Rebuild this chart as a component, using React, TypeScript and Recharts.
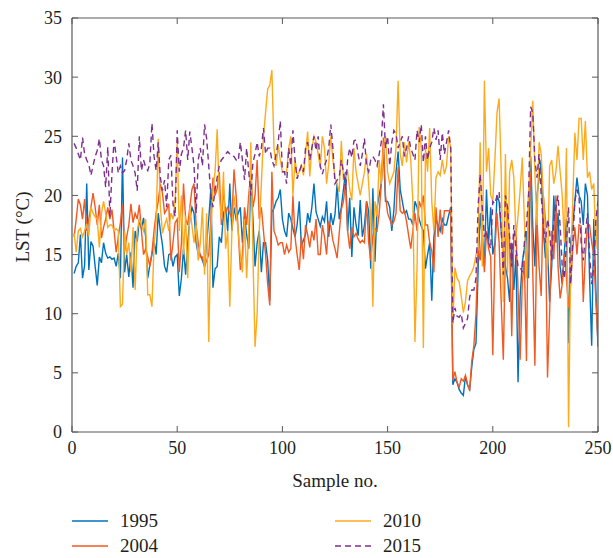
import { Line, LineChart, XAxis, YAxis } from 'recharts';

// LST per sample
const lst1995 = [
  13.4, 14.0, 14.3, 16.7, 13.0, 14.1, 21.0, 13.7, 16.1, 15.7,
  14.0, 12.4, 14.8, 14.3, 16.0, 15.1, 14.7, 14.8, 14.6, 14.7,
  14.0, 15.1, 13.0, 23.2, 13.5, 15.0, 13.1, 15.2, 12.2, 17.0,
  16.1, 18.0, 17.2, 18.1, 16.5, 13.0, 14.1, 15.0, 16.2, 15.0,
  18.5, 17.0, 15.8, 14.0, 13.5, 15.0, 15.1, 14.0, 14.8, 15.0,
  11.5, 13.0, 15.5, 13.3, 16.0, 18.0, 19.0, 18.5, 16.0, 15.0,
  15.0, 14.5, 14.0, 16.0, 18.0, 20.6, 12.2, 13.8, 14.0, 16.5,
  16.0, 18.5, 19.0, 17.0, 21.0, 17.0, 19.0, 18.0, 18.5, 19.0,
  16.0, 18.3, 16.7, 15.5, 21.5, 18.0, 14.0, 16.0, 17.0, 13.5,
  16.0, 16.0, 14.5, 11.1, 18.6, 18.9, 19.5, 19.8, 20.5, 18.0,
  17.0, 16.5, 18.5, 18.0, 17.2, 16.5, 17.5, 19.5, 15.8, 16.2,
  16.7, 18.5, 17.7, 19.0, 21.0, 18.6, 18.0, 17.4, 18.2, 17.8,
  19.5, 16.5, 18.5, 17.5, 18.4, 21.0, 18.0, 19.0, 20.5, 22.0,
  17.0, 19.8, 14.8, 19.0, 17.5, 16.6, 19.6, 16.5, 17.5, 19.5,
  18.7, 13.8, 20.6, 14.4, 19.0, 20.0, 21.0, 24.0, 19.5, 19.5,
  19.0, 17.0, 18.8, 22.0, 23.7, 20.5, 19.5, 18.5, 18.7, 18.0,
  18.0, 17.5, 19.5, 19.0, 18.0, 17.4, 17.0, 13.8, 15.0, 16.0,
  11.1, 16.5, 18.0, 17.5, 17.0, 18.0, 17.5, 17.5, 18.3, 19.0,
  4.0, 4.5, 4.2, 3.6, 3.3, 3.1, 4.7, 4.0, 3.6, 5.5,
  7.0, 7.5, 13.6, 18.5, 16.5, 14.0, 20.5, 16.0, 19.0, 15.0,
  16.0, 20.0, 19.5, 17.0, 15.0, 14.0, 13.0, 11.0, 16.0, 12.0,
  15.0, 4.2, 11.5, 14.3, 15.5, 17.0, 13.0, 23.3, 17.4, 14.0,
  20.0, 21.5, 23.0, 17.0, 14.7, 15.5, 11.0, 14.0, 20.0, 16.0,
  18.5, 14.0, 12.5, 15.2, 18.0, 7.5, 16.0, 17.5, 19.5, 21.5,
  20.0, 19.5, 17.5, 21.0, 20.0, 13.0, 7.3, 18.0, 12.0, 7.2,
];

const lst2004 = [
  16.5, 18.0, 19.7, 19.2, 18.0, 19.7, 17.0, 18.0, 19.0, 20.2,
  19.0, 17.5, 19.2, 16.4, 17.3, 18.0, 19.0, 18.0, 18.8, 17.0,
  15.2, 16.5, 17.7, 19.2, 15.3, 16.5, 17.5, 19.3, 17.7, 18.5,
  18.0, 19.2, 17.0, 15.0, 15.5, 14.8, 14.0, 15.2, 17.0, 18.5,
  19.5, 21.0, 20.2, 18.5, 18.8, 19.3, 14.5, 16.0, 17.7, 18.0,
  13.5, 16.0, 21.0, 18.0, 17.5, 19.0, 20.5, 21.0, 17.5, 16.0,
  14.8, 14.8, 14.0, 14.5, 15.0, 18.0, 21.5, 20.0, 20.6, 22.0,
  17.5, 20.5, 18.5, 19.0, 18.5, 18.0, 22.2, 20.0, 17.0, 13.7,
  15.0, 19.0, 17.5, 20.0, 22.0, 19.0, 20.0, 23.0, 18.0, 19.0,
  17.0, 15.0, 12.5, 10.7, 22.0, 17.0, 16.5, 15.8, 16.0, 16.0,
  15.0, 15.8, 15.2, 15.5, 20.0, 16.5, 15.0, 13.7, 16.5, 14.6,
  17.5, 16.7, 15.6, 17.0, 16.2, 18.0, 15.0, 15.0, 17.5, 16.5,
  15.0, 17.8, 17.4, 16.2, 15.5, 14.7, 16.8, 18.8, 19.5, 21.0,
  17.0, 15.5, 17.3, 16.5, 16.8, 16.3, 16.0, 16.2, 16.0, 19.5,
  16.0, 14.5, 16.6, 17.2, 17.0, 18.5, 21.0, 24.9, 20.0, 18.5,
  18.0, 17.5, 17.8, 18.5, 22.4, 18.7, 18.5, 18.7, 17.8, 16.6,
  15.5, 17.0, 18.5, 17.0, 19.5, 19.0, 20.0, 17.5, 17.5, 16.0,
  15.3, 13.5, 19.0, 16.5, 18.8, 16.7, 18.7, 18.7, 18.7, 18.7,
  4.4, 5.1, 4.2, 3.8, 4.5, 4.3, 4.8, 4.0, 3.5, 6.0,
  7.3, 10.0, 15.5, 14.5, 17.0, 13.5, 17.0, 15.5, 14.8, 6.5,
  15.5, 18.5, 16.0, 11.0, 6.1, 15.5, 19.0, 16.0, 8.1, 16.5,
  17.0, 12.0, 6.1, 12.5, 14.5, 6.0, 20.0, 22.0, 13.5, 5.6,
  18.0, 14.0, 11.5, 20.0, 18.0, 4.6, 10.0, 17.0, 14.6, 20.0,
  14.0, 11.3, 12.5, 15.0, 13.0, 10.5, 12.5, 15.5, 17.3, 15.0,
  17.5, 17.4, 11.0, 15.0, 17.5, 17.5, 16.0, 15.0, 11.0, 7.5,
];

const lst2010 = [
  16.8, 15.2, 17.0, 17.2, 16.5, 17.0, 17.6, 16.6, 19.0, 18.5,
  18.2, 18.0, 15.6, 18.5, 19.5, 18.5, 17.3, 17.5, 17.5, 17.0,
  17.2, 17.0, 10.6, 10.8, 17.0, 15.0, 16.0, 13.5, 17.3, 12.0,
  17.0, 18.0, 17.5, 17.0, 18.0, 11.6, 11.6, 10.6, 15.8, 17.8,
  24.8, 19.0, 16.8, 17.5, 18.0, 17.0, 18.5, 18.0, 19.5, 24.5,
  17.0, 20.0, 15.0, 18.3, 13.0, 19.0, 17.5, 16.0, 17.5, 14.5,
  16.0, 19.0, 13.3, 18.5, 7.6, 17.0, 20.5, 22.0, 25.6, 20.0,
  18.0, 22.0, 15.5, 17.0, 10.6, 17.0, 20.0, 18.5, 17.0, 15.0,
  13.5, 18.0, 13.0, 17.0, 24.5, 15.0, 7.2, 10.0, 17.0, 21.0,
  25.0, 27.0, 29.0, 29.3, 30.6, 24.0, 22.5, 24.2, 23.0, 22.0,
  22.0, 22.0, 24.0, 25.0, 20.0, 23.0, 21.7, 22.0, 22.6, 21.7,
  23.5, 25.4, 21.6, 24.0, 25.0, 24.5, 23.5, 22.3, 25.0, 24.0,
  21.0, 22.6, 25.0, 23.0, 21.5, 21.0, 20.3, 24.6, 21.4, 21.7,
  22.0, 20.5, 19.6, 24.0, 22.0, 21.0, 20.0, 21.0, 22.0, 23.5,
  21.0, 18.0, 10.6, 19.5, 18.2, 23.0, 21.0, 24.0, 25.0, 22.0,
  21.0, 21.5, 22.0, 24.0, 29.7, 23.5, 22.5, 24.5, 22.8, 24.5,
  23.0, 19.5, 7.6, 14.0, 25.8, 24.0, 7.1, 24.0, 22.0, 25.7,
  19.5, 17.0, 21.5, 22.0, 21.7, 23.0, 21.8, 22.5, 25.0, 24.0,
  9.1, 13.9, 13.0, 12.7, 11.5, 10.1, 11.0, 12.8, 13.2, 13.5,
  14.0, 15.0, 15.5, 24.5, 14.0, 29.7, 22.0, 24.0, 20.0, 19.6,
  23.0, 27.0, 28.2, 22.0, 11.0, 23.5, 13.4, 22.0, 23.0, 21.5,
  16.5, 18.3, 20.5, 23.2, 18.0, 13.0, 20.0, 24.0, 28.0, 22.0,
  17.5, 24.5, 23.5, 20.0, 17.0, 14.0, 22.5, 23.0, 21.0, 22.0,
  24.2, 22.0, 20.0, 16.0, 24.0, 0.4, 14.0, 19.5, 25.3, 23.0,
  26.5, 26.5, 23.0, 26.3, 21.5, 22.0, 20.5, 21.0, 15.5, 20.0,
];

const lst2015 = [
  24.4, 24.0, 23.5, 23.0, 24.9, 23.5, 23.0, 22.6, 21.7, 22.5,
  23.3, 23.8, 24.8, 23.0, 22.5, 20.7, 24.1, 18.2, 21.9, 24.7,
  23.3, 21.9, 22.5, 21.9, 22.1, 23.0, 24.4, 23.0, 22.5, 21.9,
  20.4, 25.0, 22.1, 23.0, 22.4, 22.1, 22.7, 26.1, 23.3, 22.1,
  24.5, 21.5, 20.4, 21.3, 19.0, 23.0, 23.4, 19.3, 18.2, 25.5,
  22.0, 23.5, 24.0, 25.5, 23.0, 25.4, 24.0, 22.5, 18.5, 23.0,
  24.0, 22.5, 26.0, 24.8, 22.5, 20.0, 19.0, 20.5, 21.5, 22.5,
  23.0, 23.2, 23.5, 23.7, 23.5, 23.3, 23.3, 23.0, 22.9, 24.5,
  23.0, 21.3, 24.0, 22.0, 20.0, 22.8, 23.5, 24.5, 23.3, 24.0,
  25.7, 23.5, 24.0, 24.0, 23.0, 22.5, 23.5, 24.5, 26.3, 22.0,
  22.0, 21.0, 24.0, 22.5, 25.5, 23.0, 21.4, 22.0, 22.5, 22.0,
  24.0, 24.5, 23.0, 24.0, 25.0, 23.8, 25.0, 22.5, 21.8, 22.5,
  23.0, 24.0, 26.0, 24.0, 21.0, 21.3, 21.5, 23.0, 22.0, 20.5,
  23.0, 24.0, 23.2, 24.6, 24.7, 23.5, 22.5, 23.5, 24.8, 22.5,
  22.0, 23.0, 23.3, 23.0, 22.5, 23.5, 24.5, 27.7, 24.0, 25.0,
  22.5, 24.5, 25.5, 25.2, 24.0, 24.5, 25.0, 23.3, 24.0, 25.0,
  24.0, 23.5, 23.0, 25.5, 24.5, 26.0, 22.8, 25.0, 23.0, 24.0,
  24.5, 25.7, 24.7, 25.5, 23.0, 25.3, 23.5, 24.5, 25.5, 24.0,
  9.2, 10.5, 9.8, 9.7, 10.0, 8.8, 9.2, 9.6, 11.4, 12.0,
  12.0, 13.0, 19.0, 21.8, 19.0, 16.5, 17.0, 16.0, 15.5, 19.5,
  19.3, 20.0, 20.3, 17.0, 13.3, 20.0, 19.0, 16.5, 14.0, 17.5,
  15.5, 14.0, 14.0, 13.5, 16.0, 17.5, 20.0, 27.5, 27.0, 23.0,
  21.5, 23.5, 20.0, 17.5, 16.0, 18.0, 17.0, 14.5, 18.0, 19.0,
  20.0, 17.4, 14.0, 13.0, 16.0, 19.0, 12.5, 16.0, 19.5, 20.5,
  19.8, 16.0, 14.5, 16.7, 18.5, 15.0, 12.5, 14.0, 18.0, 19.5,
];

const xTicks = [0, 50, 100, 150, 200, 250];
const yTicks = [0, 5, 10, 15, 20, 25, 30, 35];

const series = [
  { key: 'y1995', name: '1995', color: '#0072bd', dash: undefined as string | undefined },
  { key: 'y2004', name: '2004', color: '#f15a22', dash: undefined as string | undefined },
  { key: 'y2010', name: '2010', color: '#fdab1e', dash: undefined as string | undefined },
  { key: 'y2015', name: '2015', color: '#7e2f8e', dash: '6 4' },
];

const rows = lst1995.map((v, i) => ({
  sample: i + 1,
  y1995: v,
  y2004: lst2004[i],
  y2010: lst2010[i],
  y2015: lst2015[i],
}));

const FONT = '"Liberation Serif", "Times New Roman", serif';
const TEXT = '#231f20';
const AXIS = '#58595b';
const tickStyle = { fontFamily: FONT, fontSize: 18, fill: TEXT };
const noLabel = () => null;

function LegendItem({ name, color, dash, x, y }: { name: string; color: string; dash?: string; x: number; y: number }) {
  return (
    <div style={{ position: 'absolute', left: x, top: y - 12, height: 24, display: 'flex', alignItems: 'center' }}>
      <svg width={36} height={4} style={{ marginRight: 12 }}>
        <line x1={0} y1={2} x2={36} y2={2} stroke={color} strokeWidth={1.5} strokeDasharray={dash} />
      </svg>
      <span style={{ fontFamily: FONT, fontSize: 19, color: TEXT }}>{name}</span>
    </div>
  );
}

export default function App() {
  return (
    <div style={{ position: 'absolute', left: 0, top: 0, width: 613, height: 558, background: '#fff' }}>
      <LineChart width={613} height={558} data={rows} margin={{ top: 18, right: 15, left: 0, bottom: 96 }}>
        <XAxis
          xAxisId="b"
          dataKey="sample"
          type="number"
          domain={[0, 250]}
          ticks={xTicks}
          allowDataOverflow
          height={30}
          tickLine={false}
          tickSize={0}
          tickMargin={9}
          tick={tickStyle}
          axisLine={{ stroke: AXIS, strokeWidth: 1.2 }}
        />
        <XAxis
          xAxisId="bm"
          dataKey="sample"
          type="number"
          orientation="bottom"
          mirror
          domain={[0, 250]}
          ticks={xTicks}
          allowDataOverflow
          axisLine={false}
          tickSize={6}
          tickLine={{ stroke: AXIS }}
          tick={noLabel}
        />
        <XAxis
          xAxisId="t"
          dataKey="sample"
          type="number"
          orientation="top"
          mirror
          domain={[0, 250]}
          ticks={xTicks}
          allowDataOverflow
          axisLine={{ stroke: AXIS, strokeWidth: 1.2 }}
          tickSize={6}
          tickLine={{ stroke: AXIS }}
          tick={noLabel}
        />
        <YAxis
          yAxisId="l"
          type="number"
          domain={[0, 35]}
          ticks={yTicks}
          allowDataOverflow
          width={72}
          tickLine={false}
          tickSize={0}
          tickMargin={10}
          tick={tickStyle}
          axisLine={{ stroke: AXIS, strokeWidth: 1.2 }}
        />
        <YAxis
          yAxisId="lm"
          type="number"
          orientation="left"
          mirror
          domain={[0, 35]}
          ticks={yTicks}
          allowDataOverflow
          axisLine={false}
          tickSize={6}
          tickLine={{ stroke: AXIS }}
          tick={noLabel}
        />
        <YAxis
          yAxisId="r"
          type="number"
          orientation="right"
          mirror
          domain={[0, 35]}
          ticks={yTicks}
          allowDataOverflow
          axisLine={{ stroke: AXIS, strokeWidth: 1.2 }}
          tickSize={6}
          tickLine={{ stroke: AXIS }}
          tick={noLabel}
        />
        {series.map((s) => (
          <Line
            key={s.key}
            xAxisId="b"
            yAxisId="l"
            type="linear"
            dataKey={s.key}
            name={s.name}
            stroke={s.color}
            strokeWidth={1.4}
            strokeDasharray={s.dash}
            dot={false}
            activeDot={false}
            isAnimationActive={false}
          />
        ))}
      </LineChart>

      <div
        style={{
          position: 'absolute',
          left: 23,
          top: 227,
          transform: 'translate(-50%, -50%) rotate(-90deg)',
          whiteSpace: 'nowrap',
          fontFamily: FONT,
          fontSize: 19,
          color: TEXT,
        }}
      >
        LST (°C)
      </div>
      <div
        style={{
          position: 'absolute',
          left: 335,
          top: 481,
          transform: 'translate(-50%, -50%)',
          whiteSpace: 'nowrap',
          fontFamily: FONT,
          fontSize: 19,
          color: TEXT,
        }}
      >
        Sample no.
      </div>

      <LegendItem name="1995" color={series[0].color} x={72} y={521} />
      <LegendItem name="2004" color={series[1].color} x={72} y={546} />
      <LegendItem name="2010" color={series[2].color} dash={series[2].dash} x={335} y={521} />
      <LegendItem name="2015" color={series[3].color} dash={series[3].dash} x={335} y={546} />
    </div>
  );
}
